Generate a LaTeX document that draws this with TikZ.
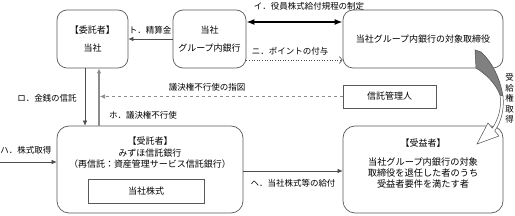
\documentclass[tikz,border=0pt]{standalone}
\usepackage{fontspec}
\setmainfont{Noto Sans CJK JP}
\usetikzlibrary{arrows.meta}
\tikzset{
  rbox/.style={draw=black!65, line width=0.7pt, rounded corners=10pt, inner sep=0pt, align=center},
  sbox/.style={draw=black!65, line width=0.7pt, inner sep=0pt, align=center},
  lbl/.style={inner sep=0pt, font=\fontsize{8.5}{9.6}\selectfont},
  txt/.style={inner sep=0pt, align=center},
  arr/.style={draw=black!70, line width=0.6pt, -{Latex[length=5pt,width=4.5pt]}},
}
\begin{document}
\begin{tikzpicture}[x=1pt, y=-1pt, font=\fontsize{9}{11}\selectfont]
    \useasboundingbox (0,0) rectangle (515,216);
    % boxes
    \node[rbox, minimum width=71pt, minimum height=58pt] (itakusha) at (92.5,39) {【委託者】\\[7pt]当社};
    \node[rbox, minimum width=73pt, minimum height=58pt] (ginko) at (209.5,39) {当社\\[7pt]グループ内銀行};
    \node[rbox, minimum width=160pt, minimum height=58pt] (torishimari) at (423,39) {当社グループ内銀行の対象取締役};
    \node[sbox, minimum width=93pt, minimum height=23pt] (kanrinin) at (389.5,96.5) {信託管理人};
    \node[rbox, rounded corners=12pt, minimum width=186pt, minimum height=87pt] (jutakusha) at (150,169.5) {};
    \node[txt] (jutakushaTitle) at (150,141) {【受託者】};
    \node[txt, font=\fontsize{9}{11.5}\selectfont] (jutakushaName) at (150,158.5) {みずほ信託銀行\\（再信託：資産管理サービス信託銀行）};
    \node[sbox, minimum width=116pt, minimum height=24pt] (kabu) at (146,191) {当社株式};
    \node[rbox, rounded corners=12pt, minimum width=160pt, minimum height=87pt] (jueki) at (423,169.5) {};
    \node[txt] (juekiTitle) at (423,143) {【受益者】};
    \node[txt, font=\fontsize{9.2}{11.2}\selectfont] (juekiText) at (423,173) {当社グループ内銀行の対象\\取締役を退任した者のうち\\受益者要件を満たす者};
    % connectors
    \draw[draw=black, line width=1.6pt, {Latex[length=8pt,width=6pt]}-{Latex[length=8pt,width=6pt]}]
        ([yshift=17pt]ginko.east) -- ([yshift=17pt]ginko.east -| torishimari.west);
    \node[lbl] (lblI) at (309,6) {イ．役員株式給付規程の制定};
    \draw[draw=black!70, line width=0.6pt, dotted, -{Straight Barb[length=3pt,width=7pt]}]
        ([yshift=-21pt]ginko.east) -- ([yshift=-21pt]ginko.east -| torishimari.west);
    \node[lbl] (lblNi) at (290,51) {ニ．ポイントの付与};
    \draw[arr] (ginko.west) -- (ginko.west -| itakusha.east);
    \node[lbl] (lblTo) at (150,30) {ト．精算金};
    \coordinate (roTop) at ([xshift=-7.5pt]itakusha.south);
    \coordinate (hoTop) at ([xshift=6.5pt]itakusha.south);
    \draw[arr] (roTop) -- (roTop |- jutakusha.north);
    \node[lbl] (lblRo) at (47,98) {ロ．金銭の信託};
    \draw[arr, draw=black!45, line width=1.2pt] (hoTop |- jutakusha.north) -- (hoTop);
    \node[lbl] (lblHo) at (143,115) {ホ．議決権不行使};
    \draw[arr, draw=black!45, dashed] (kanrinin.west) -- ([xshift=1pt]kanrinin.west -| hoTop);
    \node[lbl] (lblShizu) at (207,87) {議決権不行使の指図};
    \coordinate (haStart) at (0,162);
    \draw[arr] (haStart) -- (haStart -| jutakusha.west);
    \node[lbl] (lblHa) at (26,150) {ハ．株式取得};
    \draw[arr] ([yshift=-1.5pt]jutakusha.east) -- ([yshift=-1.5pt]jutakusha.east -| jueki.west);
    \node[lbl] (lblHe) at (293,183) {ヘ．当社株式等の給付};
    % curved arrow
    \draw[draw=black!70, line width=0.5pt, fill=black!50] (475,50) -- (481,52)
        .. controls (492,62) and (500,78) .. (503,96) -- (500,95)
        .. controls (496,84) and (486,74) .. (476,68) -- cycle;
    \draw[draw=black!70, line width=0.5pt, fill=white] (500,95)
        .. controls (502,108) and (498,120) .. (492.3,128.1) -- (488,123) -- (477,144)
        -- (499,136) -- (494.7,130.9) .. controls (501,122) and (504.5,110) .. (503,96) -- cycle;
    \node[lbl, align=center, font=\fontsize{8.5}{10.5}\selectfont] (lblJukyu) at (509.5,98.5) {受\\給\\権\\取\\得};
\end{tikzpicture}
\end{document}
